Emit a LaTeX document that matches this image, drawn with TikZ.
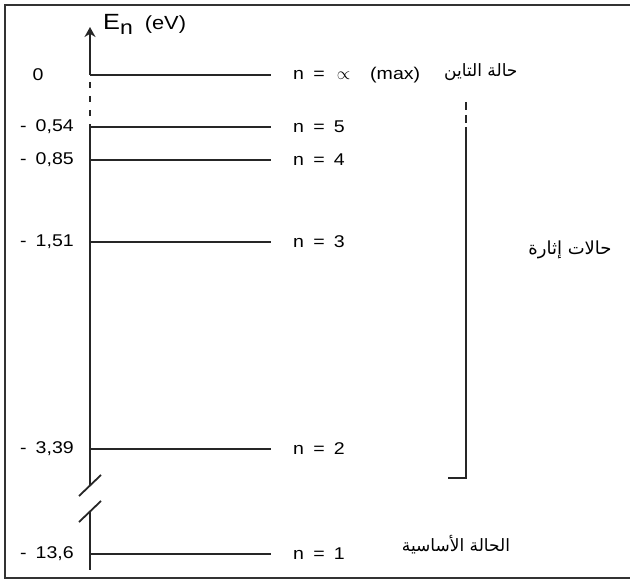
\documentclass[tikz,border=0pt]{standalone}
\usepackage{fontspec}
\setmainfont{Liberation Sans}[FakeStretch=1.15,WordSpace=1.7]
\newfontfamily\arabicfont[Script=Arabic]{DejaVu Sans}
\TeXXeTstate=1
\usetikzlibrary{arrows.meta}

\begin{document}
\begin{tikzpicture}[x=1pt,y=-1pt,>=Stealth,font=\fontsize{17}{20}\selectfont,
  line/.style={black!85,line width=1.8pt},
  arlabel/.style={font=\arabicfont\fontsize{17}{20}\selectfont}]
\useasboundingbox (0,0) rectangle (630,580);
\draw[black!80,line width=1.8pt] (630,5) -- (5,5) -- (5,578) -- (630,578);
% energy axis
\coordinate (axtop) at (90,27);
\coordinate (ax0) at (90,75);
\coordinate (dashA) at (90,82);
\coordinate (dashB) at (90,125);
\coordinate (brkA) at (90,485);
\coordinate (brkB) at (90,512);
\coordinate (axbot) at (90,570);
\draw[line,-{Stealth[length=10pt,width=11pt]}] (ax0) -- (axtop);
\draw[line,dash pattern=on 6pt off 8pt] (dashA) -- (dashB);
\draw[line] (dashB) -- (brkA);
\draw[line] (brkB) -- (axbot);
\draw[line] (79,496) -- (101,475);
\draw[line] (79,522) -- (101,501);
\node[anchor=base west,inner sep=0pt] (axlabel) at (103,30)
  {\fontsize{22}{24}\selectfont E\raisebox{-5pt}{\fontsize{20}{22}\selectfont n} \fontsize{19}{22}\selectfont(eV)};
% levels
\foreach \y/\val/\n [count=\i] in {127/{- 0,54}/5, 160/{- 0,85}/4, 242/{- 1,51}/3,
    449/{- 3,39}/2, 554/{- 13,6}/1} {
  \coordinate (lvl\i) at (90,\y);
  \coordinate (end\i) at (271,\y);
  \draw[line] (lvl\i) -- (end\i);
  \node[anchor=east,inner sep=0pt] (val\i) at (74,\y) {\val};
  \node[anchor=west,inner sep=0pt] (n\i) at (293,\y) {n = \n};
}
\coordinate (end0) at (271,75);
\draw[line] (ax0) -- (end0);
\node[inner sep=0pt] (val0) at (38,75) {0};
\node[anchor=west,inner sep=0pt] (n0) at (293,75) {n = \,$\propto$\hspace{20pt}(max)};
\node[arlabel,anchor=west,inner sep=0pt] (ion) at (444,72) {\beginR حالة التاين\endR};
% bracket of the excited states
\coordinate (brtop) at (466,102);
\coordinate (brmid) at (466,127);
\coordinate (brbot) at (466,478);
\coordinate (brend) at (448,478);
\draw[line,dash pattern=on 8pt off 5pt] (brtop) -- (brmid);
\draw[line] (brmid) -- (brbot) -- (brend);
\node[arlabel,inner sep=0pt] (exc) at (570,250) {\fontsize{18}{20}\selectfont\beginR حالات إثارة\endR};
\node[arlabel,inner sep=0pt] (ground) at (456,545) {\beginR الحالة الأساسية\endR};
\end{tikzpicture}
\end{document}
